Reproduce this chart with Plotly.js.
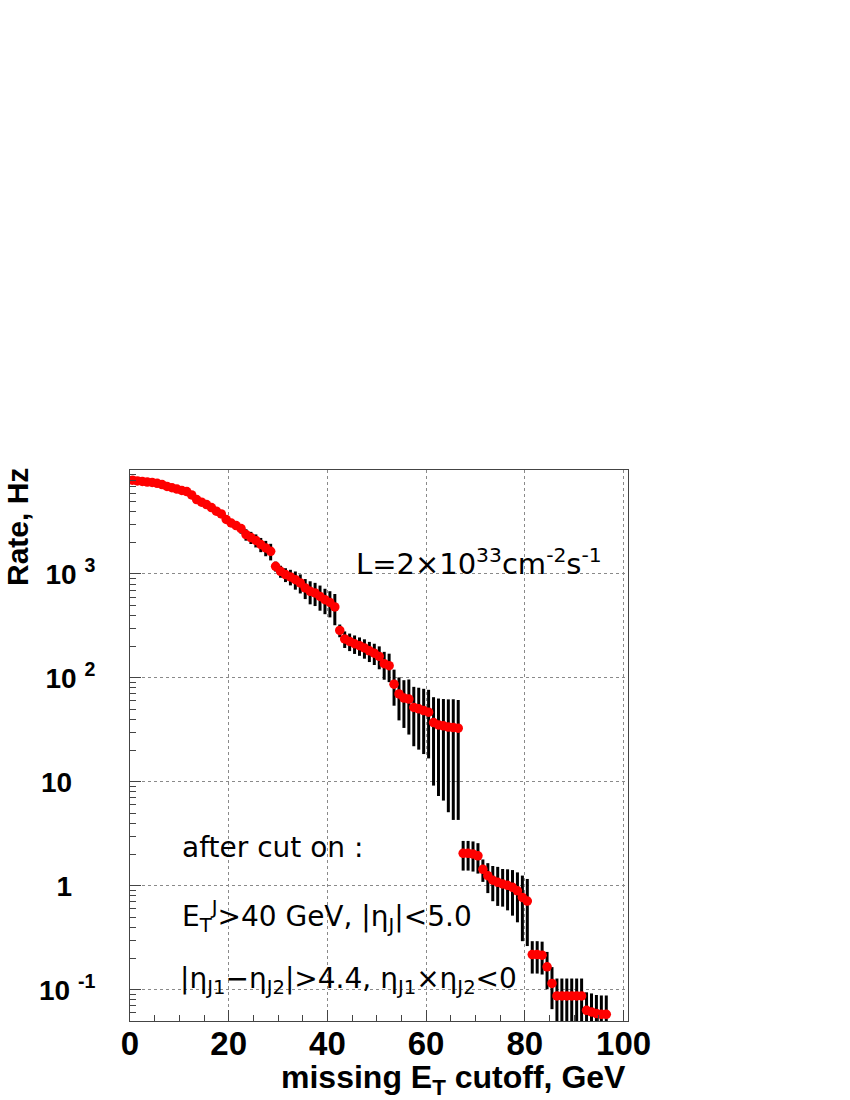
<!DOCTYPE html>
<html>
<head>
<meta charset="utf-8">
<script src="https://cdn.plot.ly/plotly-3.0.1.min.js"></script>
<style>html,body{margin:0;padding:0;background:#fff;}#chart{width:850px;height:1100px;}</style>
</head>
<body>
<div id="chart"></div>
<script>
// Bin centres of the missing-ET cutoff (GeV)
const cutoff = [0.5,1.5,2.5,3.5,4.5,5.5,6.5,7.5,8.5,9.5,10.5,11.5,12.5,13.5,14.5,15.5,16.5,17.5,18.5,19.5,
  20.5,21.5,22.5,23.5,24.5,25.5,26.5,27.5,28.5,29.5,30.5,31.5,32.5,33.5,34.5,35.5,36.5,37.5,38.5,39.5,
  40.5,41.5,42.5,43.5,44.5,45.5,46.5,47.5,48.5,49.5,50.5,51.5,52.5,53.5,54.5,55.5,56.5,57.5,58.5,59.5,
  60.5,61.5,62.5,63.5,64.5,65.5,66.5,67.5,68.5,69.5,70.5,71.5,72.5,73.5,74.5,75.5,76.5,77.5,78.5,79.5,
  80.5,81.5,82.5,83.5,84.5,85.5,86.5,87.5,88.5,89.5,90.5,91.5,92.5,93.5,94.5,95.5,96.5];

// Rate (Hz)
const rate = [7980,7850,7750,7650,7580,7450,7250,6950,6750,6550,6350,6200,5750,5200,4900,4650,4350,4020,3780,3340,
  3090,2920,2730,2390,2240,2100,1920,1780,1650,1184,1059,985,936,881,819,733,680,656,608,565,
  532,481,286,237,224,213,204,194,182,173,161,137,131,87,70,64,62.5,52,50.4,48.5,
  46.8,37.2,35.3,34.6,33.6,33.3,32.8,2.05,2.05,2.02,1.94,1.44,1.25,1.13,1.08,1.04,1.01,0.966,0.895,0.773,
  0.713,0.218,0.218,0.215,0.166,0.115,0.0871,0.0871,0.0871,0.0871,0.0871,0.0871,0.0634,0.0611,0.059,0.058,0.058];

// Statistical error on the rate (Hz)
const rateErr = [160,160,155,155,150,150,180,175,170,200,190,190,200,180,200,190,200,200,190,220,
  250,270,290,300,300,300,300,300,300,130,140,150,160,175,170,160,170,165,165,155,
  150,160,40,43,43,43,41,41,40,40,40,41,40,33,31,31,34,30,30,30,
  30,28,28,28,28.5,29,28.5,0.65,0.65,0.65,0.63,0.35,0.4,0.42,0.44,0.41,0.43,0.45,0.45,0.48,
  0.45,0.075,0.075,0.075,0.065,0.05,0.041,0.041,0.041,0.041,0.041,0.041,0.031,0.031,0.03,0.03,0.03];

const xTickVals = [0,20,40,60,80,100];
const xTickText = ['0','20','40','60','80','100'];
const yTickVals = [0.1,1,10,100,1000];
const yTickText = ['10 <sup>-1</sup>','1\u00a0\u00a0\u00a0','10\u00a0\u00a0\u00a0','10 <sup>2</sup>','10 <sup>3</sup>'];

const yMinor = [];
for (let k = -2; k <= 3; k++) for (let d = 2; d <= 9; d++) {
  const v = d * Math.pow(10, k);
  if (v >= 0.05 && v <= 10000) yMinor.push(v);
}

const L = 130, R = 628, T = 470, B = 1021;
const px2x = p => (p - L) / (R - L);
const py2y = p => (B - p) / (B - T);

const traces = [{
  type: 'scatter', mode: 'markers',
  x: cutoff, y: rate,
  marker: {color: '#ff0000', size: 9.5, line: {width: 0}},
  error_y: {type: 'data', array: rateErr, symmetric: true, color: '#000000', thickness: 3, width: 0},
  showlegend: false, hoverinfo: 'x+y'
}];

const tf = {family: 'DejaVu Sans, sans-serif', size: 28, color: '#000'};

const layout = {
  width: 850, height: 1100,
  margin: {l: L, r: 850 - R, t: T, b: 1100 - B, pad: 0},
  paper_bgcolor: '#ffffff', plot_bgcolor: '#ffffff',
  showlegend: false,
  xaxis: {
    range: [0, 100.9], tickmode: 'array', tickvals: xTickVals, ticktext: xTickText,
    ticks: 'inside', ticklen: 11, tickwidth: 1, tickcolor: '#444',
    showline: true, linecolor: '#444', linewidth: 1, mirror: true,
    showgrid: true, gridcolor: '#8a8a8a', griddash: 'dot', gridwidth: 1,
    zeroline: false,
    tickfont: {family: 'Liberation Sans, Arial, sans-serif', size: 33, weight: 'bold', color: '#000'},
    ticklabelstandoff: -7,
    minor: {tickmode: 'linear', tick0: 0, dtick: 5, ticks: 'inside', ticklen: 6, tickcolor: '#444', showgrid: false}
  },
  yaxis: {
    type: 'log', range: [Math.log10(0.05), 4],
    tickmode: 'array', tickvals: yTickVals, ticktext: yTickText,
    ticks: 'inside', ticklen: 11, tickwidth: 1, tickcolor: '#444',
    showline: true, linecolor: '#444', linewidth: 1, mirror: true,
    showgrid: true, gridcolor: '#8a8a8a', griddash: 'dot', gridwidth: 1,
    zeroline: false,
    tickfont: {family: 'Liberation Sans, Arial, sans-serif', size: 28, weight: 'bold', color: '#000'},
    ticklabelstandoff: 28,
    minor: {tickmode: 'array', tickvals: yMinor, ticks: 'inside', ticklen: 6, tickcolor: '#444', showgrid: false}
  },
  annotations: [
    {xref: 'paper', yref: 'paper', x: 1.0, y: py2y(1079), xanchor: 'right', yanchor: 'middle', showarrow: false,
     text: 'missing E<sub>T</sub> cutoff, GeV',
     font: {family: 'Liberation Sans, Arial, sans-serif', size: 32, weight: 'bold', color: '#000'}},
    {xref: 'paper', yref: 'paper', x: px2x(17), y: py2y(527), xanchor: 'center', yanchor: 'middle', showarrow: false,
     textangle: -90, text: 'Rate, Hz',
     font: {family: 'Liberation Sans, Arial, sans-serif', size: 30, weight: 'bold', color: '#000'}},
    {xref: 'paper', yref: 'paper', x: px2x(354), y: py2y(562), xanchor: 'left', yanchor: 'middle', showarrow: false,
     text: 'L=2\u00d710<sup>33</sup>cm<sup>-2</sup>s<sup>-1</sup>', font: Object.assign({}, tf, {size: 29})},
    {xref: 'paper', yref: 'paper', x: px2x(180), y: py2y(847), xanchor: 'left', yanchor: 'middle', showarrow: false,
     text: 'after cut on :', font: tf},
    {xref: 'paper', yref: 'paper', x: px2x(180), y: py2y(916), xanchor: 'left', yanchor: 'middle', showarrow: false,
     text: 'E<sub>T</sub><sup>J</sup>&gt;40 GeV, |\u03b7<sub>J</sub>|&lt;5.0', font: tf},
    {xref: 'paper', yref: 'paper', x: px2x(178), y: py2y(980), xanchor: 'left', yanchor: 'middle', showarrow: false,
     text: '|\u03b7<sub>J1</sub>\u2212\u03b7<sub>J2</sub>|&gt;4.4, \u03b7<sub>J1</sub>\u00d7\u03b7<sub>J2</sub>&lt;0', font: tf}
  ]
};

Plotly.newPlot('chart', traces, layout, {staticPlot: true, displayModeBar: false});
</script>
</body>
</html>
